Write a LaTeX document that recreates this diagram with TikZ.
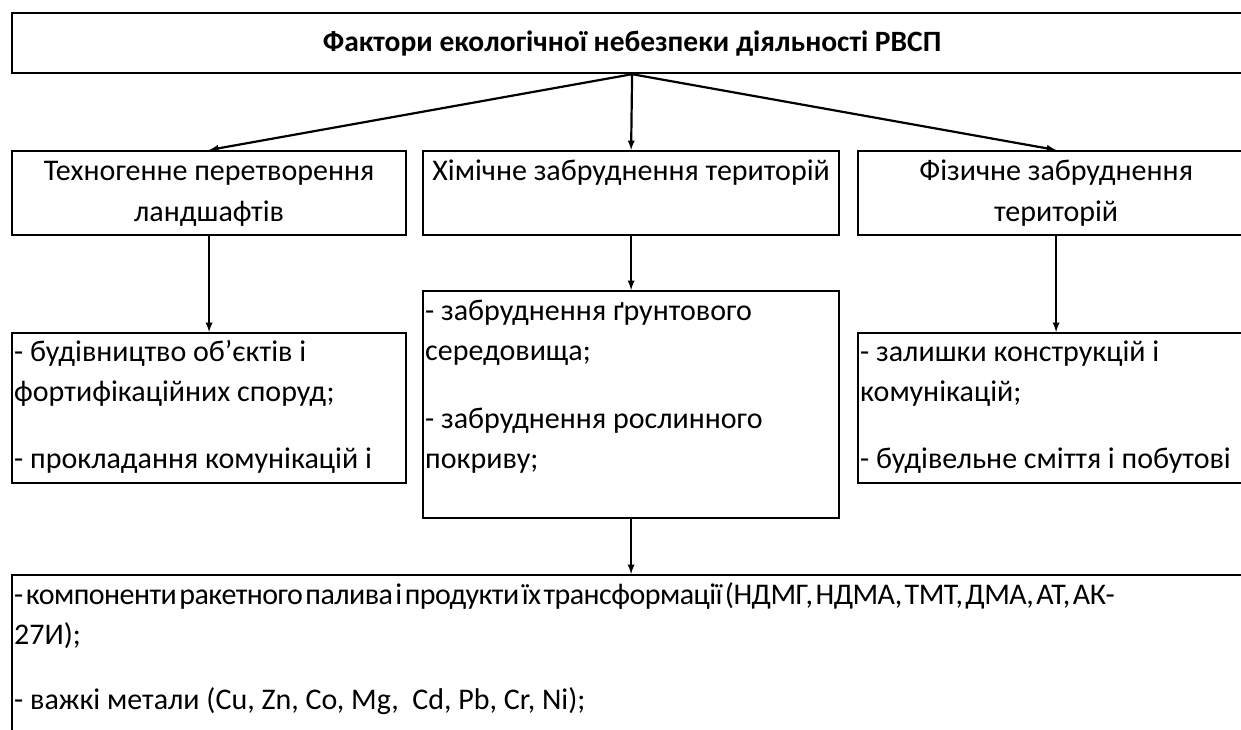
\documentclass[tikz,border=0pt]{standalone}
\usepackage{fontspec}
\setmainfont{Carlito}
\newfontfamily\tightfont{Carlito}[LetterSpace=-1.8,WordSpace=0.4]
\usetikzlibrary{positioning}

\begin{document}
\begin{tikzpicture}[x=1pt,y=-1pt,>=latex,
	box/.style={draw,line width=2.2pt,anchor=north west,inner sep=0pt},
	txt/.style={anchor=north west,inner sep=0pt,align=left,
		font=\fontsize{30}{40}\selectfont},
	ctxt/.style={anchor=north,inner sep=0pt,align=flush center,
		font=\fontsize{30}{41}\selectfont},
	arr/.style={line width=2.2pt,->}]
	
	\useasboundingbox (0,0) rectangle (1241,729);
	\clip (0,0) rectangle (1241,729);
	
	% Draw the top box
	\node[box,minimum width=1240pt,minimum height=60pt,
		font=\fontsize{29.5}{30}\selectfont\bfseries] (top) at (11,12)
		{\raisebox{-2pt}{Фактори екологічної небезпеки діяльності РВСП}};
	
	% Draw the three groups of factors
	\node[box,minimum width=394pt,minimum height=84pt] (tech) at (11,150) {};
	\node[box,minimum width=416pt,minimum height=84pt] (chem) at (422,150) {};
	\node[box,minimum width=396pt,minimum height=84pt] (phys) at (857,150) {};
	\node[ctxt,text width=394pt] at ([yshift=-2pt]tech.north) {\strut Техногенне перетворення\\ландшафтів};
	\node[ctxt,text width=416pt] at ([yshift=-2pt]chem.north) {\strut Хімічне забруднення територій};
	\node[ctxt,text width=396pt] at ([yshift=-2pt]phys.north) {\strut Фізичне забруднення\\територій};
	
	% Draw the lists under each group
	\node[box,minimum width=394pt,minimum height=150pt] (techlist) at (11,332) {};
	\node[box,minimum width=416pt,minimum height=227pt] (chemlist) at (422,290) {};
	\node[box,minimum width=396pt,minimum height=150pt] (physlist) at (857,332) {};
	\node[txt] at ([xshift=3pt,yshift=-1pt]techlist.north west)
		{\strut- будівництво об’єктів і\\фортифікаційних споруд;\\[27pt]- прокладання комунікацій і};
	\node[txt] at ([xshift=3pt,yshift=-2pt]chemlist.north west)
		{\strut- забруднення ґрунтового\\середовища;\\[28pt]- забруднення рослинного\\покриву;};
	\node[txt] at ([xshift=3pt,yshift=-1pt]physlist.north west)
		{\strut- залишки конструкцій і\\комунікацій;\\[27pt]- будівельне сміття і побутові};
	
	% Draw the bottom box (first line set tighter)
	\node[box,minimum width=1240pt,minimum height=220pt] (fuel) at (11,574) {};
	\node[txt] at ([xshift=3pt,yshift=-2pt]fuel.north west)
		{\strut{\tightfont - компоненти ракетного палива і продукти їх трансформації (НДМГ, НДМА, ТМТ, ДМА, АТ, АК-}\\27И);\\[25pt]- важкі метали (Cu, Zn, Co, Mg,\ \ Cd, Pb, Cr, Ni);};
	
	% Draw the arrows
	\draw[arr] (top.south) -- (tech.north);
	\draw[arr] (top.south) -- (chem.north);
	\draw[arr] (top.south) -- (phys.north);
	\draw[arr] (tech.south) -- (techlist.north);
	\draw[arr] (chem.south) -- (chemlist.north);
	\draw[arr] (phys.south) -- (physlist.north);
	\draw[arr] (chemlist.south) -- (chemlist.south |- fuel.north);
	
\end{tikzpicture}
\end{document}
